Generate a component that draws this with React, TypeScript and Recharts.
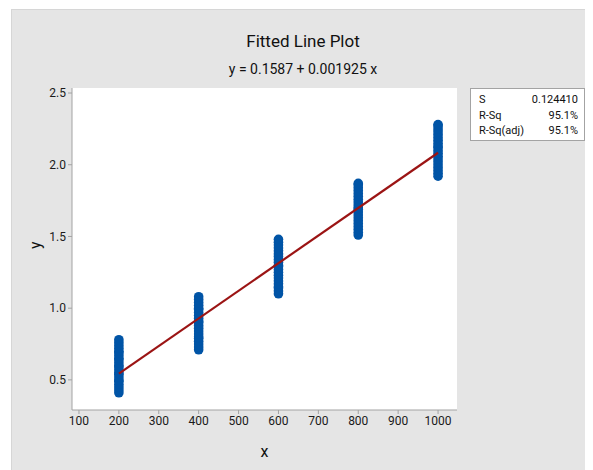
import React from "react";
import {
  ComposedChart,
  Scatter,
  XAxis,
  YAxis,
  CartesianGrid,
} from "recharts";

const xLevels = [200, 400, 600, 800, 1000];
const yAt200 = [0.41, 0.43, 0.45, 0.47, 0.49, 0.5, 0.52, 0.54, 0.55, 0.57, 0.59, 0.6, 0.62, 0.64, 0.65, 0.67, 0.69, 0.7, 0.72, 0.74, 0.76, 0.78];
const yAt400 = [0.71, 0.73, 0.75, 0.77, 0.79, 0.8, 0.82, 0.84, 0.86, 0.88, 0.9, 0.91, 0.93, 0.95, 0.97, 0.99, 1.0, 1.02, 1.04, 1.06, 1.08];
const yAt600 = [1.1, 1.12, 1.14, 1.15, 1.17, 1.19, 1.21, 1.23, 1.25, 1.27, 1.29, 1.3, 1.32, 1.34, 1.36, 1.38, 1.4, 1.42, 1.44, 1.46, 1.48];
const yAt800 = [1.51, 1.53, 1.55, 1.57, 1.59, 1.61, 1.63, 1.65, 1.67, 1.69, 1.7, 1.72, 1.74, 1.76, 1.78, 1.8, 1.82, 1.84, 1.86, 1.87];
const yAt1000 = [1.92, 1.94, 1.96, 1.98, 2.0, 2.02, 2.04, 2.06, 2.08, 2.1, 2.12, 2.13, 2.15, 2.17, 2.19, 2.21, 2.23, 2.25, 2.27, 2.28];

// Fitted line endpoints: y = 0.1587 + 0.001925 x
const fitX = [200, 1000];
const fitY = [0.5437, 2.0837];

const xTicks = [100, 200, 300, 400, 500, 600, 700, 800, 900, 1000];
const yTicks = [0.5, 1.0, 1.5, 2.0, 2.5];

const statLabels = ["S", "R-Sq", "R-Sq(adj)"];
const statValues = ["0.124410", "95.1%", "95.1%"];

const points = [yAt200, yAt400, yAt600, yAt800, yAt1000].flatMap((ys, i) =>
  ys.map((y) => ({ x: xLevels[i], y }))
);
const fitData = fitX.map((x, i) => ({ x, y: fitY[i] }));

const FONT = '"Roboto", "Liberation Sans", sans-serif';
const tickStyle = { fontSize: 12, fill: "#1a1a1a", fontFamily: FONT };
const frame = "#a3a3a3";

export default function App() {
  return (
    <div
      style={{
        position: "relative",
        marginLeft: 3,
        marginTop: 1,
        width: 582,
        height: 461,
        background: "#e5e5e5",
        borderTop: "1px solid #d6d6d6",
        borderLeft: "1px solid #d6d6d6",
        boxSizing: "border-box",
        fontFamily: FONT,
      }}
    >
      <div
        style={{
          position: "absolute",
          left: 0,
          width: 582,
          top: 21,
          textAlign: "center",
          fontSize: 17,
          color: "#111",
        }}
      >
        Fitted Line Plot
      </div>
      <div
        style={{
          position: "absolute",
          left: 0,
          width: 582,
          top: 51,
          textAlign: "center",
          fontSize: 14,
          color: "#111",
        }}
      >
        y = 0.1587 + 0.001925 x
      </div>

      <ComposedChart
        width={582}
        height={461}
        margin={{ top: 79, right: 136, bottom: 0, left: 0 }}
        style={{ position: "absolute", left: -1, top: -1 }}
      >
        <CartesianGrid fill="#ffffff" horizontal={false} vertical={false} />
        <XAxis
          dataKey="x"
          type="number"
          domain={[82.5, 1047.5]}
          ticks={xTicks}
          allowDataOverflow
          height={60}
          tick={tickStyle}
          tickSize={4}
          tickMargin={2}
          stroke={frame}
          label={{ value: "x", position: "insideBottom", offset: 13, fill: "#111", fontSize: 16, fontFamily: FONT }}
        />
        <YAxis
          dataKey="y"
          type="number"
          domain={[0.29, 2.535]}
          ticks={yTicks}
          allowDataOverflow
          width={61}
          tick={tickStyle}
          tickSize={4}
          tickMargin={2}
          tickFormatter={(v: number) => v.toFixed(1)}
          stroke={frame}
          label={{ value: "y", angle: -90, position: "insideLeft", offset: 24, fill: "#111", fontSize: 16, fontFamily: FONT }}
        />
        <XAxis
          xAxisId="top"
          orientation="top"
          type="number"
          domain={[0, 1]}
          height={0}
          tick={false}
          tickLine={false}
          stroke={frame}
        />
        <YAxis
          yAxisId="right"
          orientation="right"
          type="number"
          domain={[0, 1]}
          width={0}
          tick={false}
          tickLine={false}
          stroke={frame}
        />
        <Scatter
          data={points}
          dataKey="y"
          fill="#0054a6"
          shape={(p: any) => <circle cx={p.cx} cy={p.cy} r={4.8} fill="#0054a6" />}
          isAnimationActive={false}
        />
        <Scatter
          data={fitData}
          dataKey="y"
          line={{ stroke: "#9b1414", strokeWidth: 2.2 }}
          shape={() => <g />}
          isAnimationActive={false}
        />
      </ComposedChart>

      <div
        style={{
          position: "absolute",
          left: 458,
          top: 78,
          width: 115,
          height: 53,
          background: "#fff",
          border: `1px solid ${frame}`,
          boxSizing: "border-box",
          padding: "3px 6px 0 8px",
          fontSize: 11,
          color: "#111",
        }}
      >
        {statLabels.map((l, i) => (
          <div key={l} style={{ display: "flex", justifyContent: "space-between", lineHeight: "15.5px" }}>
            <span>{l}</span>
            <span>{statValues[i]}</span>
          </div>
        ))}
      </div>
    </div>
  );
}
